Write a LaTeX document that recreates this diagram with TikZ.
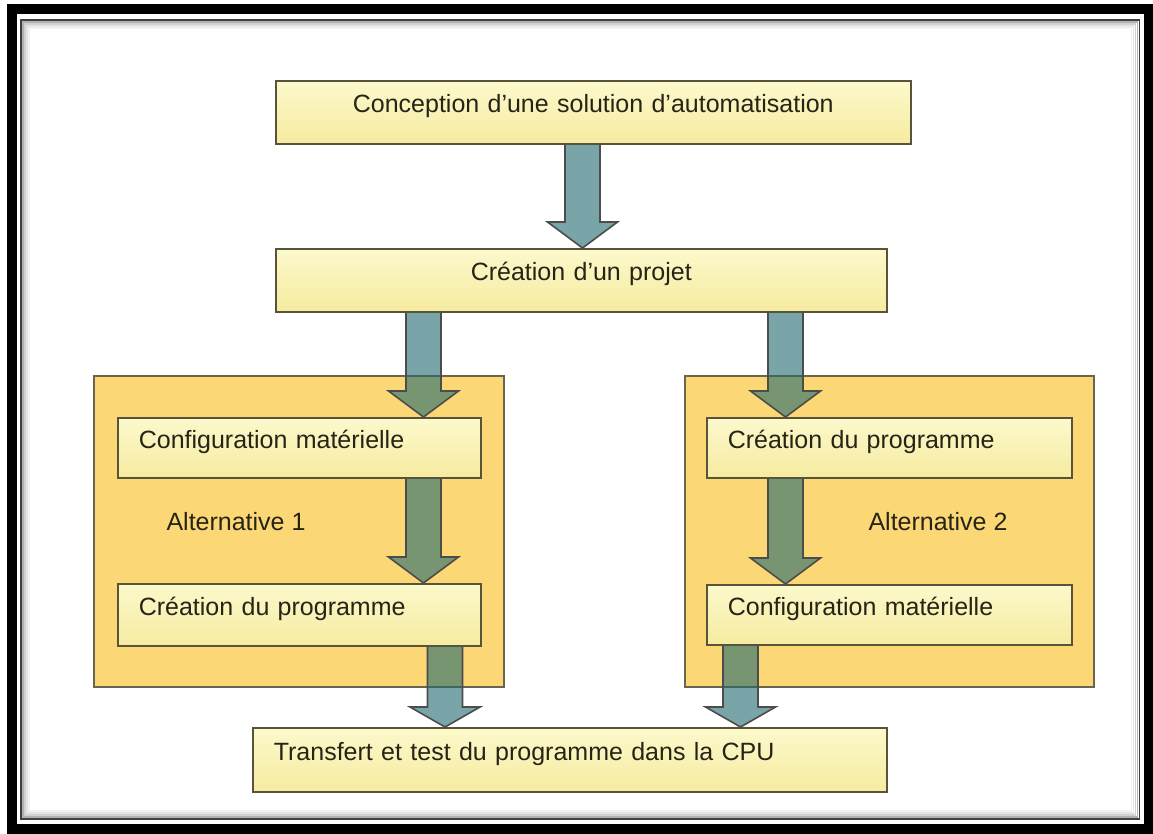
\documentclass[tikz,border=0pt]{standalone}
\usepackage{fontspec}
\setmainfont{Liberation Sans}
\usetikzlibrary{calc}

\definecolor{paleyel}{RGB}{252,249,204}
\definecolor{paleyel2}{RGB}{246,235,160}
\definecolor{altorange}{RGB}{252,215,118}
\definecolor{arrteal}{RGB}{33,105,110}
\definecolor{edgegray}{RGB}{88,84,58}
\definecolor{inkdark}{RGB}{38,36,22}

\tikzset{
  stepbox/.style={draw=edgegray, line width=1.6pt, top color=paleyel, bottom color=paleyel2,
    anchor=north west, inner xsep=21pt, text height=0.75em, text depth=0.7em,
    minimum height=62pt, text=inkdark},
  altbox/.style={draw=edgegray!90, line width=1.6pt, fill=altorange, anchor=north west},
  altlabel/.style={anchor=west, text=inkdark},
  fatarrow/.style={draw=black!70, line width=1.6pt, line join=miter, fill=arrteal, fill opacity=0.6}
}

% fat arrow: [head length] shaft x, from node, to node
\newcommand{\bigarrow}[4][26]{%
  \draw[fatarrow] (#2-17.5,0 |- #3.south) -- ($(#2-17.5,0 |- #4.north)+(0,-#1)$) -- ++(-17.5,0)
    -- (#2,0 |- #4.north) -- ($(#2+35,0 |- #4.north)+(0,-#1)$) -- ++(-17.5,0)
    -- (#2+17.5,0 |- #3.south);
}

\begin{document}
\begin{tikzpicture}[x=1pt,y=-1pt]
\fontsize{25}{30}\selectfont
\useasboundingbox (0,0) rectangle (1153,834);
\fill[white] (0,0) rectangle (1153,834);

% frame
\draw[line width=10pt] (12,9.5) rectangle (1149,829);
\foreach \i/\c in {0/75,1/30,2/18,3/10,4/5}{
\draw[black!\c, line width=1.5pt] (21+2*\i,20+2*\i) rectangle (1139.5-2*\i,819-2*\i);}

% top steps
\node[stepbox, text width=593pt, align=center, minimum height=63pt] (concept) at (275,80)
  {Conception d'une solution d'automatisation};
\node[stepbox, text width=569pt, align=center, minimum height=63pt] (projet) at (275,248)
  {Création d'un projet};

% alternative 1
\node[altbox, minimum width=410pt, minimum height=311pt] (alt1) at (93,375) {};
\node[stepbox, text width=321pt, align=left, minimum height=60pt] (cfg1) at (117,417)
  {Configuration matérielle};
\node[stepbox, text width=321pt, align=left] (prg1) at (117,583)
  {Création du programme};
\node[altlabel] (lab1) at (158,522) {Alternative 1};

% alternative 2
\node[altbox, minimum width=409pt, minimum height=311pt] (alt2) at (684,375) {};
\node[stepbox, text width=323pt, align=left, minimum height=60pt] (prg2) at (706,417)
  {Création du programme};
\node[stepbox, text width=323pt, align=left, minimum height=60pt] (cfg2) at (706,584)
  {Configuration matérielle};
\node[altlabel] (lab2) at (860,522) {Alternative 2};

% last step
\node[stepbox, text width=592pt, align=left, minimum height=64pt] (transfert) at (252,727)
  {Transfert et test du programme dans la CPU};

% arrows
\bigarrow{582.5}{concept}{projet}
\bigarrow{423.5}{projet}{cfg1}
\bigarrow{423.5}{cfg1}{prg1}
\bigarrow{785.5}{projet}{prg2}
\bigarrow{785.5}{prg2}{cfg2}
\bigarrow[20]{445}{prg1}{transfert}
\bigarrow[20]{740.5}{cfg2}{transfert}

\end{tikzpicture}
\end{document}
